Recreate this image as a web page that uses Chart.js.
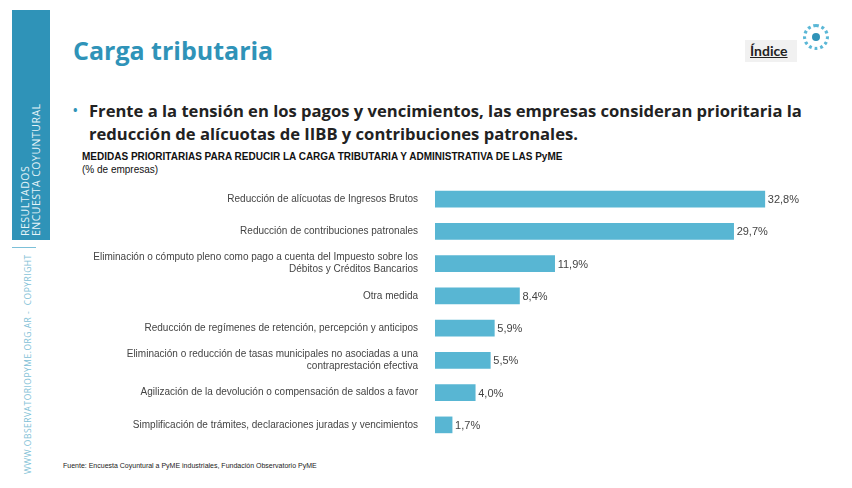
<!DOCTYPE html>
<html><head><meta charset="utf-8">
<script src="https://cdn.jsdelivr.net/npm/chart.js@4"></script>
<style>
body{margin:0;width:852px;height:488px;background:#fff;position:relative;overflow:hidden;font-family:"Open Sans",sans-serif}
.side{position:absolute;left:12px;top:10px;width:38px;height:230px;background:#2f93b8}
.vt{position:absolute;transform:rotate(-90deg);transform-origin:left top;white-space:nowrap;font-family:"Open Sans";letter-spacing:0.5px}
h1{position:absolute;left:73px;top:33px;margin:0;font-family:"Open Sans";font-size:25px;font-weight:700;color:#2f93b8}
.bul{position:absolute;left:73px;top:99px;font-family:"Open Sans";font-size:16.6px;font-weight:700;color:#222;line-height:23px}
.sub{position:absolute;left:82px;top:150px;font-family:"Liberation Sans";font-size:10px;font-weight:700;color:#111;line-height:13px}
.src{position:absolute;left:63px;top:462px;font-family:"Liberation Sans";font-size:7px;color:#222}
canvas{position:absolute;left:60px;top:168px}
</style></head><body>
<div class="side"></div>
<div class="vt" style="left:20px;top:236px;font-size:10.5px;color:#e6f3f8;line-height:11px">RESULTADOS<br>ENCUESTA COYUNTURAL</div>
<div style="position:absolute;left:12px;top:247px;width:24px;height:1px;background:#7cc0d8"></div>
<div class="vt" style="left:22px;top:474px;font-size:8.5px;color:#7fbfd6">WWW.OBSERVATORIOPYME.ORG.AR - &nbsp;COPYRIGHT</div>
<h1>Carga tributaria</h1>
<div style="position:absolute;left:745px;top:40px;width:52px;height:22px;background:#f1f1f1"></div>
<div style="position:absolute;left:750px;top:42px;font-family:Lato;font-size:14px;font-weight:700;color:#222;text-decoration:underline">Índice</div>
<div style="position:absolute;left:803px;top:24px;width:26px;height:26px;border-radius:50%;border:3px dotted #5ab7d6;box-sizing:border-box"></div>
<div style="position:absolute;left:812px;top:33px;width:8px;height:8px;border-radius:50%;background:#2f93b8"></div>
<div class="bul"><span style="position:absolute;left:0;color:#2f93b8;font-size:12px">•</span><div style="margin-left:16px">Frente a la tensión en los pagos y vencimientos, las empresas consideran prioritaria la<br>reducción de alícuotas de IIBB y contribuciones patronales.</div></div>
<div class="sub">MEDIDAS PRIORITARIAS PARA REDUCIR LA CARGA TRIBUTARIA Y ADMINISTRATIVA DE LAS PyME<br><span style="font-weight:400">(% de empresas)</span></div>
<div class="src">Fuente: Encuesta Coyuntural a PyME industriales, Fundación Observatorio PyME</div>
<canvas id="c" width="740" height="288"></canvas>
<script>
const categories=[
 "Reducción de alícuotas de Ingresos Brutos",
 "Reducción de contribuciones patronales",
 ["Eliminación o cómputo pleno como pago a cuenta del Impuesto sobre los","Débitos y Créditos Bancarios"],
 "Otra medida",
 "Reducción de regímenes de retención, percepción y anticipos",
 ["Eliminación o reducción de tasas municipales no asociadas a una","contraprestación efectiva"],
 "Agilización de la devolución o compensación de saldos a favor",
 "Simplificación de trámites, declaraciones juradas y vencimientos"];
const values=[32.8,29.7,11.9,8.4,5.9,5.5,4.0,1.7];
const labelPlugin={id:'vl',afterDatasetsDraw(ch){const c=ch.ctx;const m=ch.getDatasetMeta(0);c.save();c.font='11px "Liberation Sans"';c.fillStyle='#444';c.textBaseline='middle';
m.data.forEach((b,i)=>c.fillText(values[i].toFixed(1).replace('.',',')+'%',b.x+3,b.y+1));c.restore();}};
new Chart(document.getElementById('c'),{type:'bar',data:{labels:categories,datasets:[{data:values,backgroundColor:'#58b6d3',barThickness:16}]},
options:{indexAxis:'y',responsive:false,animation:false,layout:{padding:{top:3,bottom:0}},
plugins:{legend:{display:false},tooltip:{enabled:false}},
scales:{x:{min:0,max:36.3,display:false},
y:{grid:{display:false},border:{display:false},afterFit(s){s.width=375;},ticks:{color:'#444',font:{family:'"Liberation Sans"',size:10},padding:9}}}},
plugins:[labelPlugin]});
</script></body></html>
